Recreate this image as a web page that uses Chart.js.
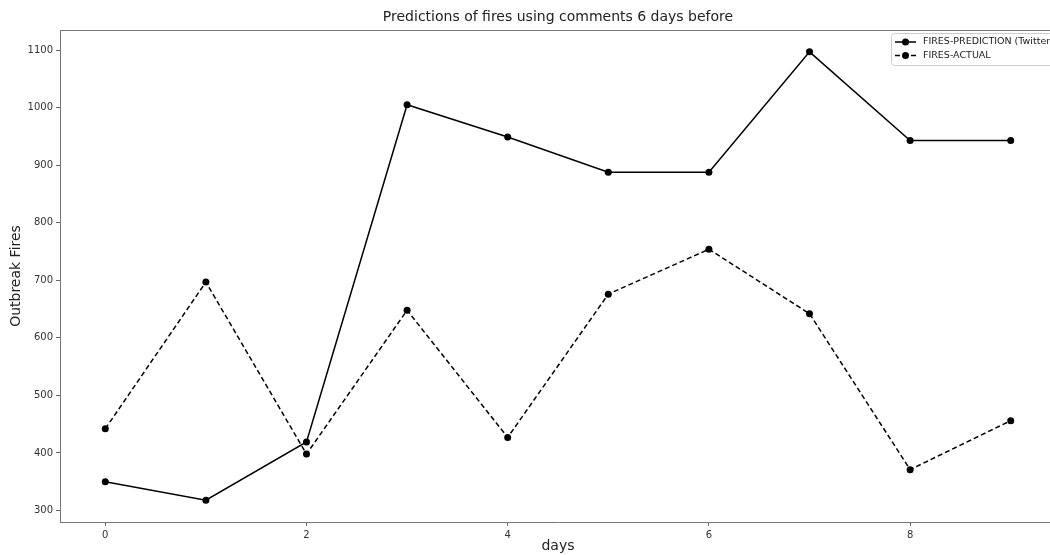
<!DOCTYPE html>
<html>
<head>
<meta charset="utf-8">
<script src="https://cdn.jsdelivr.net/npm/chart.js@4"></script>
<style>
  html, body { margin: 0; padding: 0; background: #fff; overflow: hidden; }
  #wrap { width: 1060px; height: 555px; }
</style>
</head>
<body>
<div id="wrap"><canvas id="canvas"></canvas></div>
<script>
    var days = [0, 1, 2, 3, 4, 5, 6, 7, 8, 9];
    var predicted = [350, 318, 419, 1005, 949, 888, 888, 1097, 943, 943];
    var actual = [442, 697, 398, 648, 427, 676, 754, 642, 371, 456];
    var xTicks = [0, 2, 4, 6, 8];
    var yTicks = [300, 400, 500, 600, 700, 800, 900, 1000, 1100];
    var seriesNames = ["FIRES-PREDICTION (Twitter)", "FIRES-ACTUAL"];

    var FONT = "'DejaVu Sans', sans-serif";
    var toPoints = function(ys) {
        return days.map(function(d, i) { return {x: d, y: ys[i]}; });};

    // frame top line + matplotlib style legend
    var extras = {
        id: 'extras',
        afterDraw: function(chart) {
            var c = chart.ctx, a = chart.chartArea;
            c.save();
            c.strokeStyle = '#777';
            c.lineWidth = 1;
            c.beginPath();
            c.moveTo(a.left, a.top + 0.5);
            c.lineTo(a.right, a.top + 0.5);
            c.stroke();
            // legend
            var bx = 891.5, by = 33.5, bw = 200, bh = 32;
            c.fillStyle = 'rgba(255,255,255,0.8)';
            c.strokeStyle = '#ccc';
            c.beginPath();
            c.roundRect(bx, by, bw, bh, 3);
            c.fill();
            c.stroke();
            var rows = [42, 55.5];
            var dashes = [[], [5, 3]];
            c.font = '9.5px ' + FONT;
            c.textBaseline = 'middle';
            for (var i = 0; i < 2; i++) {
                c.strokeStyle = '#000';
                c.lineWidth = 1.5;
                c.setLineDash(dashes[i]);
                c.beginPath();
                c.moveTo(895, rows[i]);
                c.lineTo(916, rows[i]);
                c.stroke();
                c.setLineDash([]);
                c.fillStyle = '#000';
                c.beginPath();
                c.arc(905.5, rows[i], 3.5, 0, Math.PI * 2);
                c.fill();
                c.fillStyle = '#222';
                c.fillText(seriesNames[i], 923, rows[i]);
            }
            c.restore();
        }};

    var config = {
        type: 'line',
        data: {
            datasets: [{
                label: seriesNames[0],
                data: toPoints(predicted),
                borderColor: '#000',
                backgroundColor: '#000',
                borderWidth: 1.5,
                pointRadius: 3.5,
                pointBorderWidth: 0,
                tension: 0},
            {
                label: seriesNames[1],
                data: toPoints(actual),
                borderColor: '#000',
                backgroundColor: '#000',
                borderWidth: 1.5,
                borderDash: [5, 3],
                pointRadius: 3.5,
                pointBorderWidth: 0,
                tension: 0}]},
        options: {
            responsive: true,
            maintainAspectRatio: false,
            animation: false,
            layout: {padding: 0},
            plugins: {
                legend: {display: false},
                tooltip: {enabled: false},
                title: {
                    display: true,
                    fullSize: false,
                    text: 'Predictions of fires using comments 6 days before',
                    color: '#222',
                    font: {family: FONT, size: 14, weight: 'normal', lineHeight: 1.2},
                    padding: {top: 9, bottom: 4.2}}},
            scales: {
                x: {
                    type: 'linear',
                    min: -0.45,
                    max: 9.45,
                    afterBuildTicks: function(s) { s.ticks = xTicks.map(function(v) { return {value: v}; }); },
                    afterFit: function(s) { s.height = 33; },
                    grid: {drawOnChartArea: false, drawTicks: true, tickLength: 4, color: '#666'},
                    border: {display: true, color: '#777', width: 1},
                    ticks: {padding: 3, color: '#333', font: {family: FONT, size: 10}, maxRotation: 0,
                        callback: function(v) { return String(v); }},
                    title: {display: true, text: 'days', color: '#222',
                        font: {family: FONT, size: 14}, padding: {top: 0, bottom: 0}}},
                y: {
                    min: 280,
                    max: 1135,
                    afterBuildTicks: function(s) { s.ticks = yTicks.map(function(v) { return {value: v}; }); },
                    afterFit: function(s) { s.width = 60; },
                    grid: {drawOnChartArea: false, drawTicks: true, tickLength: 4, color: '#666'},
                    border: {display: true, color: '#777', width: 1},
                    ticks: {padding: 3, color: '#333', font: {family: FONT, size: 10},
                        callback: function(v) { return String(v); }},
                    title: {display: true, text: 'Outbreak Fires', color: '#222',
                        font: {family: FONT, size: 14}, padding: {top: 8, bottom: 0}}}}},
        plugins: [extras]};

    window.onload = function() {
        window.myLine = new Chart(document.getElementById("canvas"), config);};
</script>
</body>
</html>
